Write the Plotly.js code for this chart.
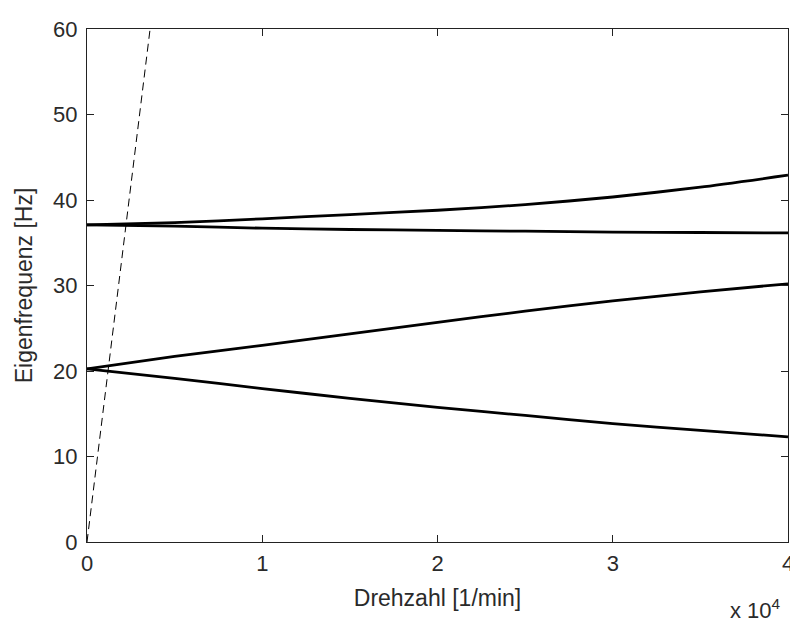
<!DOCTYPE html>
<html>
<head>
<meta charset="utf-8">
<script src="https://cdn.plot.ly/plotly-3.0.1.min.js"></script>
<style>
  html, body { margin: 0; padding: 0; background: #fff; }
  #chart { width: 790px; height: 624px; }
</style>
</head>
<body>
<div id="chart"></div>
<script>
// Rotor speed samples [1/min]
const drehzahl = [0, 5000, 10000, 15000, 20000, 25000, 30000, 35000, 40000];

// Natural frequencies [Hz] of the four whirl branches
const mode4Vorwaerts = [37.1, 37.35, 37.8, 38.3, 38.8, 39.45, 40.35, 41.5, 42.9];
const mode3Rueckwaerts = [37.1, 36.95, 36.7, 36.55, 36.45, 36.35, 36.25, 36.2, 36.15];
const mode2Vorwaerts = [20.25, 21.7, 23.0, 24.35, 25.7, 27.0, 28.2, 29.25, 30.2];
const mode1Rueckwaerts = [20.25, 19.15, 17.95, 16.8, 15.75, 14.8, 13.85, 13.05, 12.3];

// Excitation line f = n/60
const erregungN = [0, 3600];
const erregungF = [0, 60];

// Axis ticks
const xTickVals = [0, 10000, 20000, 30000, 40000];
const xTickText = ['0', '1', '2', '3', '4'];
const yTickVals = [0, 10, 20, 30, 40, 50, 60];

const FONT = 'Liberation Sans, Arial, sans-serif';
const TEXT_COLOR = '#2a2a2a';
const AXIS_COLOR = '#222';

const modeLine = { color: '#000', width: 2.8, shape: 'spline', smoothing: 0.6 };

const traces = [
  { x: drehzahl, y: mode4Vorwaerts, mode: 'lines', line: modeLine, showlegend: false, hoverinfo: 'x+y' },
  { x: drehzahl, y: mode3Rueckwaerts, mode: 'lines', line: modeLine, showlegend: false, hoverinfo: 'x+y' },
  { x: drehzahl, y: mode2Vorwaerts, mode: 'lines', line: modeLine, showlegend: false, hoverinfo: 'x+y' },
  { x: drehzahl, y: mode1Rueckwaerts, mode: 'lines', line: modeLine, showlegend: false, hoverinfo: 'x+y' },
  { x: erregungN, y: erregungF, mode: 'lines', line: { color: '#000', width: 1, dash: '8px,5px' }, showlegend: false, hoverinfo: 'x+y' }
];

const layout = {
  width: 790,
  height: 624,
  margin: { l: 87, r: 2, t: 29, b: 82 },
  paper_bgcolor: '#fff',
  plot_bgcolor: '#fff',
  font: { family: FONT, size: 22, color: TEXT_COLOR },
  xaxis: {
    range: [0, 40000],
    tickvals: xTickVals,
    ticktext: xTickText,
    ticks: 'inside',
    ticklen: 7,
    tickcolor: AXIS_COLOR,
    showline: true,
    linecolor: AXIS_COLOR,
    linewidth: 1,
    mirror: 'ticks',
    showgrid: false,
    zeroline: false,
    ticklabeloverflow: 'allow',
    tickfont: { family: FONT, size: 22, color: TEXT_COLOR },
    ticklabelstandoff: 2,
    title: { text: 'Drehzahl [1/min]', font: { family: FONT, size: 23, color: TEXT_COLOR }, standoff: 14 }
  },
  yaxis: {
    range: [0, 60],
    tickvals: yTickVals,
    ticks: 'inside',
    ticklen: 7,
    tickcolor: AXIS_COLOR,
    showline: true,
    linecolor: AXIS_COLOR,
    linewidth: 1,
    mirror: 'ticks',
    showgrid: false,
    zeroline: false,
    ticklabeloverflow: 'allow',
    tickfont: { family: FONT, size: 22, color: TEXT_COLOR },
    ticklabelstandoff: 4,
    title: { text: 'Eigenfrequenz [Hz]', font: { family: FONT, size: 23, color: TEXT_COLOR }, standoff: 14 }
  },
  annotations: [
    {
      xref: 'paper', yref: 'paper',
      x: 0.993, y: -0.1,
      xanchor: 'right', yanchor: 'top',
      text: 'x 10<sup>4</sup>',
      showarrow: false,
      font: { family: FONT, size: 22, color: TEXT_COLOR }
    }
  ]
};

Plotly.newPlot('chart', traces, layout, { staticPlot: true, displayModeBar: false });
</script>
</body>
</html>
